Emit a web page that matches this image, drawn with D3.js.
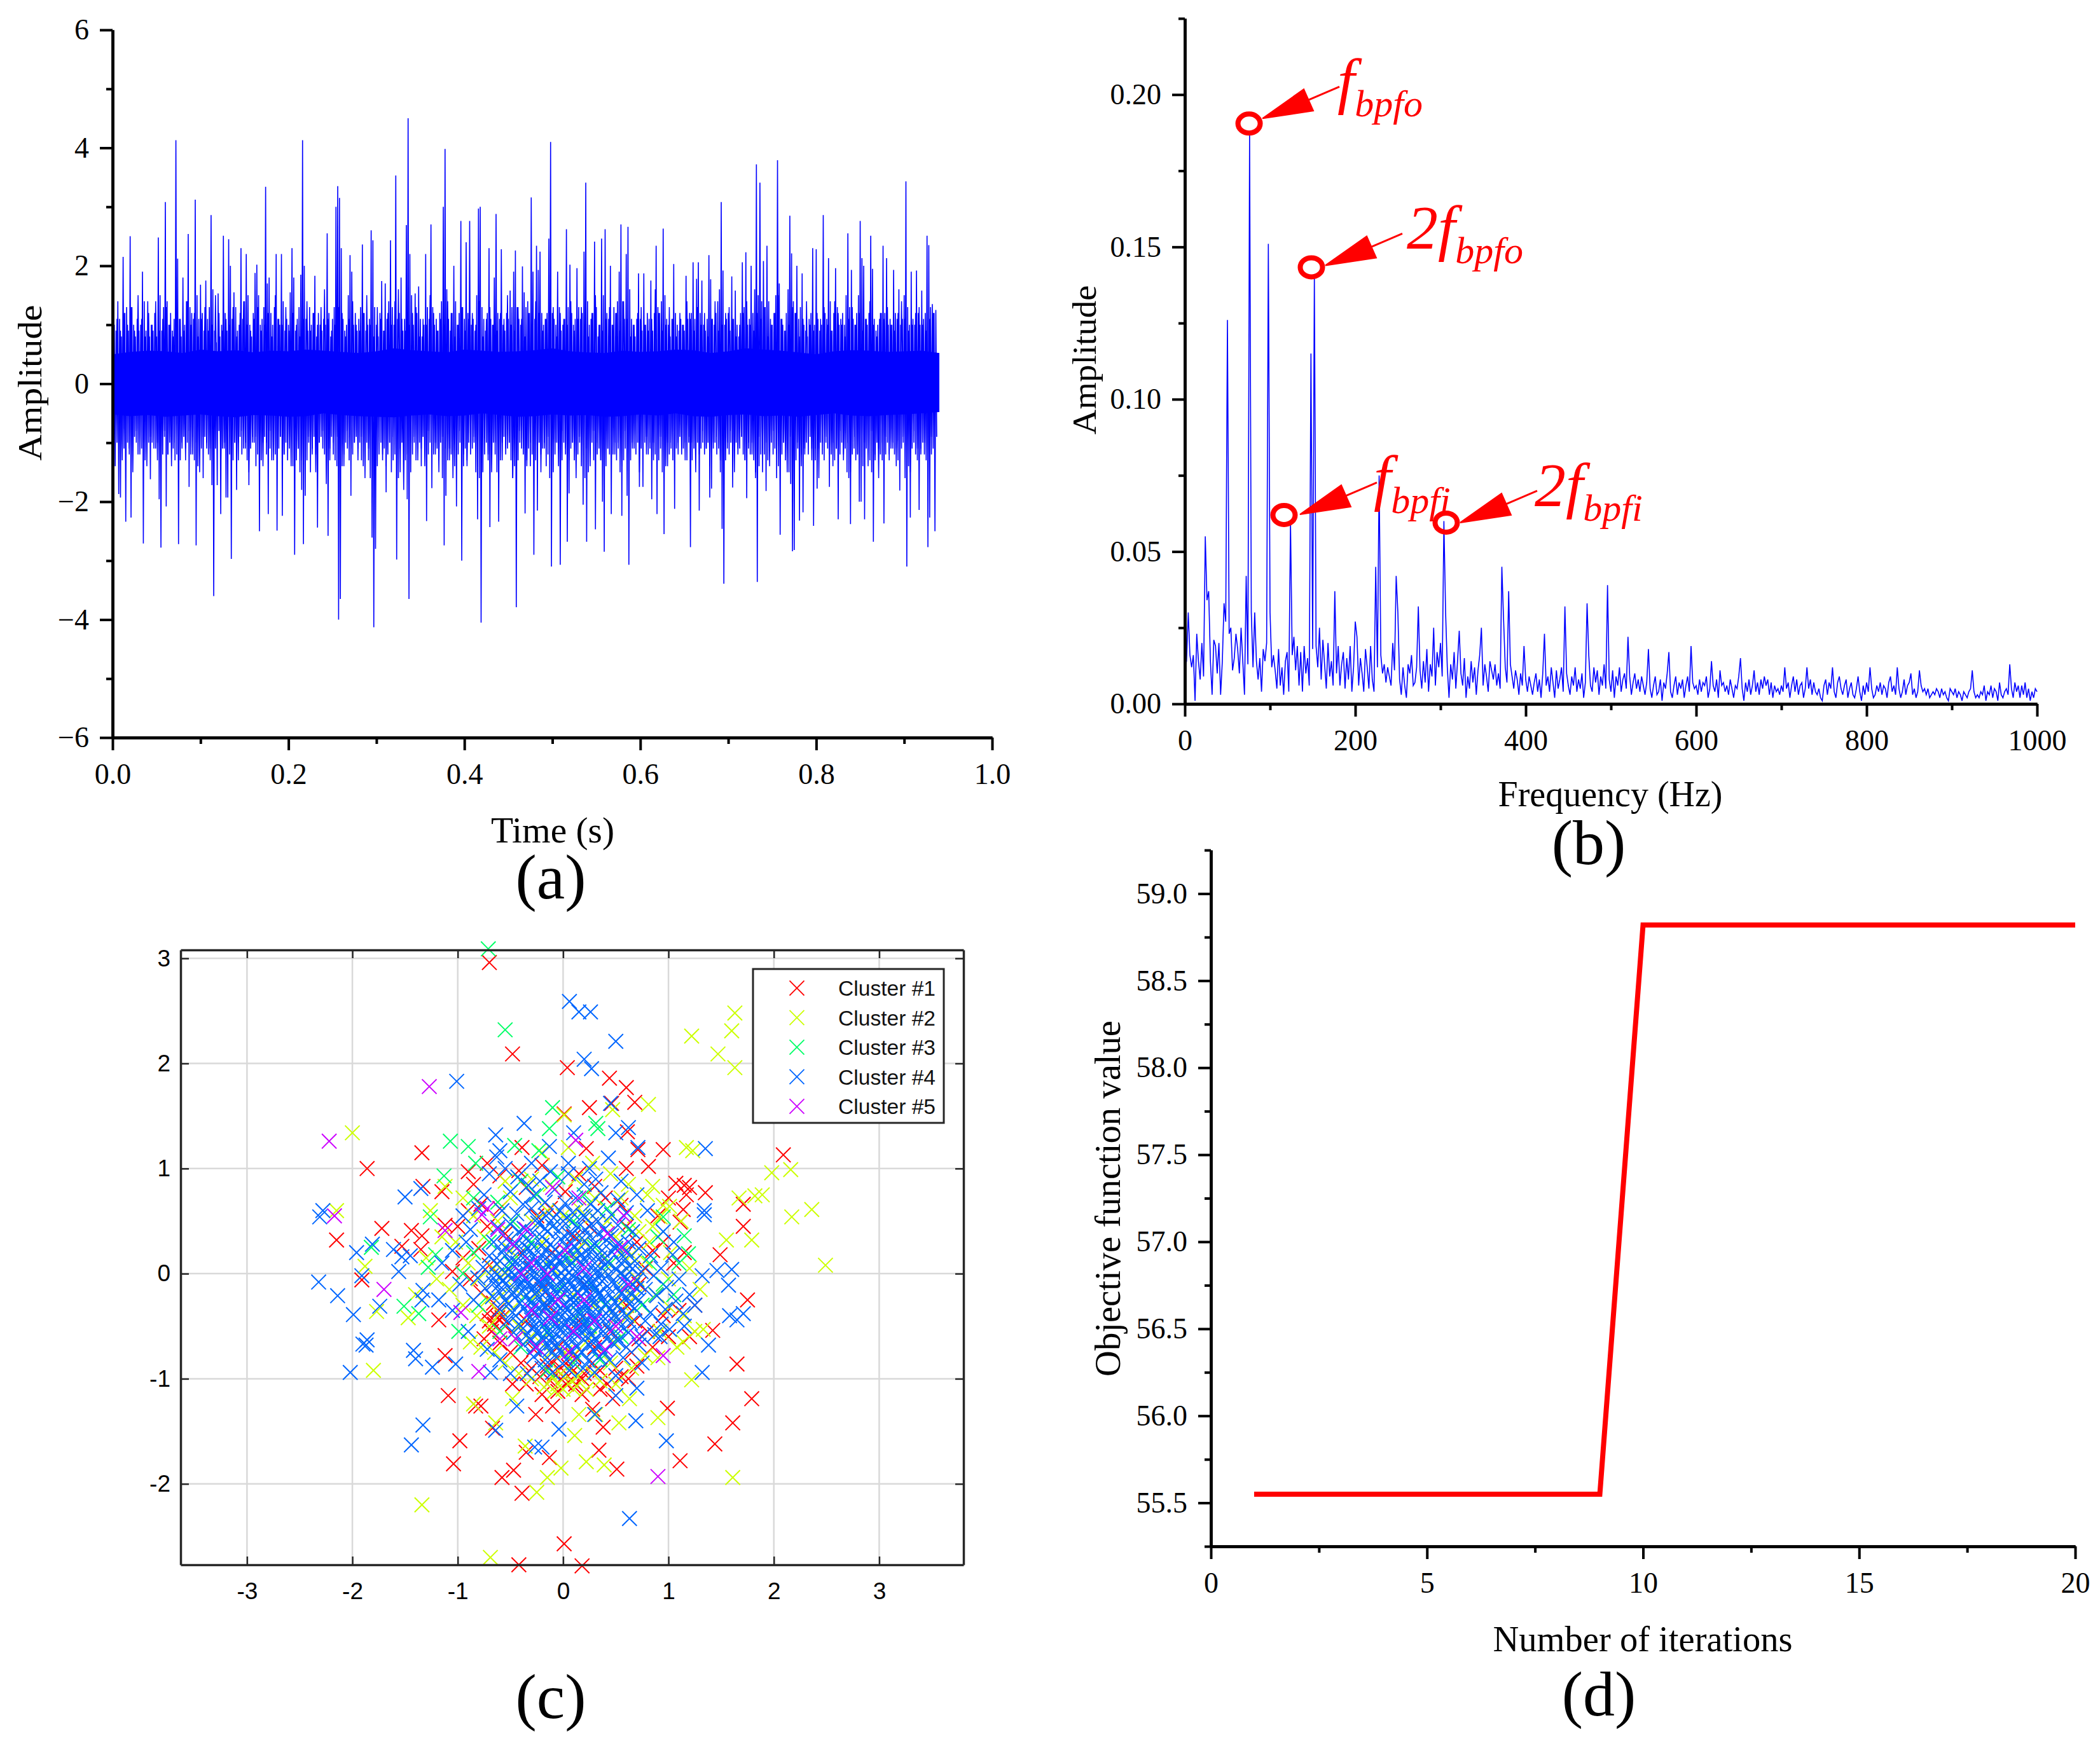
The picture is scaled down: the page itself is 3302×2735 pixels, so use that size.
<!DOCTYPE html>
<html>
<head>
<meta charset="utf-8">
<script src="https://d3js.org/d3.v7.min.js"></script>
<style>
  body { margin: 0; background: #fff; }
  text { font-family: "Liberation Serif", serif; fill: #000; }
</style>
</head>
<body>
<div id="chartArea"></div>
<script>
// (a) time signal: one upper and one lower peak per 2 ms
const waveStep = 0.002;
const waveUpper = [
  .7,1.0,.9,1.4,1.1,.8,2.15,1.2,1.3,.9, 2.5,1.3,1.0,.8,1.1,.9,1.0,1.9,1.4,.9,
  1.4,.8,1.0,.9,1.2,.8,2.48,1.5,.9,1.3, 3.08,1.4,1.0,1.2,.9,1.1,4.13,2.12,1.1,.8,
  1.8,1.0,1.4,2.54,1.3,1.2,1.1,3.12,1.5,1.1, 1.68,1.2,.9,1.75,1.1,1.3,2.86,1.6,.9,.7,
  1.53,.8,1.0,2.51,1.2,.9,2.45,2.0,1.1,1.55, 1.3,.9,1.0,2.3,1.1,1.4,2.2,1.5,1.0,.8,
  1.2,1.88,2.02,1.5,1.0,1.1,1.3,3.34,1.7,1.8, 1.2,1.0,1.3,2.2,1.1,1.0,2.2,1.4,.9,1.1,
  1.0,1.55,2.3,1.8,.9,1.1,1.3,1.85,4.13,2.0, 1.1,.9,1.3,1.0,1.2,1.83,.8,1.2,1.0,.9,
  1.1,1.0,2.55,1.2,.8,1.1,1.3,3.0,3.35,3.15, 2.3,1.1,.9,1.0,1.5,2.18,1.9,1.0,1.2,.9,
  1.1,1.3,2.36,1.2,.9,1.0,1.1,2.6,2.43,1.3, 1.0,.8,1.2,1.74,.9,1.7,1.1,1.4,2.43,1.3,
  1.0,3.53,1.1,1.2,1.8,.9,1.1,2.69,4.5,2.2, 1.5,1.0,1.53,1.2,1.65,1.1,.8,1.0,2.2,1.3,
  1.1,2.7,1.3,1.0,1.1,.9,1.2,1.4,3.0,3.98, 1.6,1.1,.9,1.2,2.0,1.4,1.0,1.2,2.76,1.3,
  1.1,2.4,1.2,2.76,1.0,1.1,.9,1.5,2.97,3.0, 1.3,1.1,.9,1.2,2.3,1.1,1.0,1.8,2.88,1.2,
  1.1,2.28,1.0,.9,1.2,1.1,1.58,1.3,1.9,2.26, 1.3,1.1,1.0,1.99,1.55,1.3,1.4,1.2,3.16,1.9,
  1.1,2.34,1.93,2.24,1.2,1.0,1.1,1.2,2.46,4.1, 1.2,1.1,1.0,1.9,1.3,.9,1.0,1.1,2.62,1.3,
  2.02,1.2,1.0,1.1,1.96,1.3,1.1,1.2,2.24,3.41, 1.4,1.0,1.1,1.2,2.41,1.3,.8,1.0,2.46,1.5,
  2.62,1.2,1.1,2.0,1.0,1.3,1.2,1.4,1.9,2.7, 1.4,1.1,2.2,2.66,1.6,1.1,1.0,.8,1.1,1.87,
  1.1,.9,1.87,1.0,1.2,1.1,1.75,.9,1.2,2.34, 1.3,1.2,1.4,2.63,1.5,1.1,1.0,.8,1.1,2.03,
  1.2,1.0,.9,1.1,1.0,.9,1.83,1.1,1.2,1.2, 2.06,1.1,1.78,2.06,1.2,1.75,1.0,.9,1.1,2.18,
  1.77,1.1,1.0,1.2,1.4,1.6,3.08,1.92,1.0,1.1, 1.2,.9,1.82,1.1,1.58,1.0,.8,1.2,2.06,1.3,
  2.23,1.0,1.1,2.0,1.2,1.6,3.72,1.5,3.41,1.4, 2.08,1.3,2.34,1.4,1.1,1.0,1.2,1.5,3.79,1.7,
  1.1,1.0,.9,1.2,1.6,2.85,2.21,1.4,1.2,2.0, 1.1,1.3,1.87,1.0,.9,.8,1.1,1.2,2.3,1.0,
  2.28,1.1,.9,1.0,2.86,1.2,1.1,2.13,1.4,.9, 1.2,1.96,1.3,1.0,1.1,1.2,1.0,1.5,2.55,1.3,
  1.93,1.1,1.0,1.2,1.5,2.76,2.13,2.0,1.1,1.0, 1.2,2.51,1.95,1.1,.9,1.0,1.1,1.2,2.34,1.2,
  2.13,1.0,1.1,1.0,1.93,1.2,1.1,1.6,1.0,1.1, 1.5,3.43,1.3,1.0,1.9,1.1,1.0,1.92,1.2,1.0,
  1.58,1.1,1.2,2.51,2.35,1.3,1.35,1.2,1.25
];
const waveLower = [
  -.8,-1.4,-1.0,-1.87,-1.93,-.9,-1.1,-2.34,-1.0,-1.2, -2.27,-1.1,-.9,-1.0,-1.2,-.8,-1.1,-2.71,-1.3,-.9,
  -1.0,-1.62,-1.0,-.8,-1.1,-1.0,-1.96,-2.78,-1.2,-.9, -2.08,-1.2,-1.0,-.9,-1.1,-1.3,-1.2,-2.72,-1.3,-1.0,
  -.9,-1.1,-1.0,-1.75,-1.2,-.9,-1.3,-2.74,-1.4,-1.0, -1.1,-1.6,-.9,-1.0,-1.2,-1.1,-1.72,-3.6,-1.1,-1.72,
  -.8,-2.21,-1.1,-1.0,-1.93,-1.93,-1.2,-2.97,-1.3,-1.0, -1.8,-1.0,-.9,-1.2,-1.1,-1.0,-1.3,-1.72,-1.1,-.9,
  -1.0,-1.4,-1.2,-2.5,-1.3,-1.0,-.9,-1.2,-2.21,-1.1, -1.3,-1.0,-1.2,-2.49,-1.1,-.9,-2.24,-1.2,-1.0,-1.3,
  -1.1,-.9,-1.4,-2.9,-1.3,-1.1,-1.5,-1.8,-2.72,-1.9, -1.3,-1.0,-1.5,-1.1,-.9,-1.2,-2.44,-1.0,-.9,-1.1,
  -1.2,-1.0,-2.58,-1.1,-.9,-1.2,-1.3,-1.4,-4.0,-3.65, -1.4,-1.2,-1.0,-1.1,-1.3,-1.9,-1.2,-1.0,-.9,-1.1,
  -1.0,-1.3,-1.4,-1.1,-1.0,-1.3,-1.6,-2.61,-4.13,-2.8, -1.4,-1.2,-1.0,-1.3,-1.1,-1.84,-1.2,-1.0,-1.5,-1.3,
  -1.2,-2.98,-1.6,-1.1,-1.0,-1.2,-1.3,-1.96,-3.65,-1.5, -1.2,-1.0,-1.3,-1.1,-1.0,-1.4,-.9,-1.1,-2.33,-1.2,
  -1.0,-1.77,-1.2,-1.0,-1.1,-1.3,-1.0,-1.6,-2.74,-1.9, -1.3,-1.1,-1.2,-1.0,-1.4,-2.08,-1.2,-1.0,-3.0,-1.4,
  -1.1,-1.3,-1.0,-1.2,-1.1,-1.0,-1.5,-2.3,-1.6,-4.05, -1.5,-1.2,-1.0,-1.3,-2.43,-1.1,-1.0,-1.2,-1.5,-2.34,
  -1.3,-1.0,-.9,-1.2,-1.1,-1.0,-1.3,-1.6,-1.4,-3.79, -1.3,-1.0,-1.1,-1.2,-2.2,-1.3,-1.1,-1.4,-1.2,-2.9,
  -1.3,-2.15,-1.0,-1.2,-1.1,-1.0,-1.4,-1.2,-1.6,-3.1, -1.5,-1.2,-1.0,-1.1,-3.07,-1.3,-1.0,-1.2,-2.68,-1.86,
  -1.1,-1.0,-1.3,-1.1,-1.2,-1.0,-1.4,-2.05,-1.6,-2.68, -1.5,-1.2,-1.0,-1.3,-2.47,-1.2,-1.1,-1.3,-2.0,-2.85,
  -1.4,-1.1,-1.2,-2.21,-1.2,-1.0,-1.3,-1.1,-1.5,-2.24, -1.3,-1.1,-1.9,-3.07,-1.3,-1.0,-1.1,-1.2,-1.0,-1.75,
  -1.1,-1.75,-1.0,-.9,-1.2,-1.1,-1.96,-1.0,-1.2,-2.21, -1.3,-1.1,-1.5,-2.55,-1.4,-1.0,-1.2,-1.1,-1.3,-2.12,
  -1.1,-1.0,-.9,-1.2,-1.1,-1.0,-1.3,-1.0,-2.77,-1.3, -1.1,-1.2,-1.0,-2.15,-1.1,-1.0,-1.2,-1.1,-1.0,-1.93,
  -1.78,-1.1,-1.0,-1.2,-1.1,-1.5,-2.46,-3.39,-1.3,-1.1, -1.2,-1.0,-1.76,-1.1,-1.0,-1.2,-1.1,-.9,-1.2,-1.3,
  -1.94,-1.1,-1.2,-1.0,-1.3,-1.5,-3.36,-1.4,-1.2,-1.5, -1.2,-1.82,-1.3,-1.1,-1.0,-1.2,-1.1,-1.6,-1.4,-2.56,
  -1.2,-1.0,-1.3,-1.1,-1.5,-1.7,-2.84,-2.82,-1.3,-1.1, -2.32,-1.2,-2.18,-1.1,-1.0,-1.2,-.9,-1.1,-2.41,-1.3,
  -1.78,-1.1,-1.0,-1.2,-1.3,-1.0,-1.1,-1.75,-1.2,-1.0, -1.3,-1.1,-2.3,-1.2,-1.0,-1.2,-1.1,-1.5,-1.6,-2.38,
  -1.2,-1.1,-1.3,-1.2,-2.0,-2.0,-1.4,-2.3,-1.1,-1.0, -1.3,-1.5,-2.68,-1.2,-1.0,-1.1,-1.2,-1.3,-2.37,-1.2,
  -1.0,-1.3,-1.1,-1.0,-1.2,-1.1,-1.3,-1.81,-1.1,-1.0, -1.6,-3.1,-1.4,-2.27,-1.1,-1.0,-1.2,-1.3,-2.14,-1.1,
  -1.0,-1.2,-1.3,-2.77,-2.27,-1.2,-1.1,-2.5,-.9
];
// smaller swings between the big peaks, one pair per 4 ms
const fuzzStep = 0.004;
const fuzzUpper = [
  .8,1.1,.9,1.2,1.0,1.3,.9,1.5,1.1,.8,1.2,1.0,1.4,.9,1.1,1.3,1.0,.8,1.2,1.1,
  .9,1.4,1.0,1.2,.8,1.1,1.3,.9,1.0,1.5,1.2,.9,1.1,1.0,1.3,.8,1.2,1.4,1.0,.9,
  1.1,1.3,.9,1.0,1.2,.8,1.5,1.1,1.0,1.3,.9,1.2,1.0,.8,1.1,1.4,.9,1.2,1.0,1.3,
  1.6,1.1,.9,1.0,1.3,1.2,.8,1.1,1.4,1.0,.9,1.2,1.5,1.0,.8,1.3,1.1,.9,1.2,1.0,
  1.4,1.6,1.1,.9,1.0,1.2,1.3,.8,1.1,1.0,1.5,1.2,.9,1.1,1.0,1.4,1.2,.8,1.0,1.3,
  .9,1.1,1.2,1.0,1.4,.8,1.1,1.3,1.0,.9,1.2,1.1,1.5,1.0,.9,1.3,1.1,.8,1.2,1.0,
  1.4,1.2,.9,1.1,1.0,1.3,.8,1.2,1.1,1.0,1.4,.9,1.1,1.3,1.0,.8,1.2,1.5,1.0,.9,
  1.1,1.3,1.0,1.2,.9,1.4,1.1,.8,1.0,1.2,1.3,1.0,.9,1.1,1.6,1.2,.9,1.0,1.3,1.1,
  .8,1.2,1.0,1.4,1.1,.9,1.3,1.0,1.2,.8,1.1,1.4,.9,1.0,1.2,1.3,1.1,.8,1.0,1.2,
  1.4,1.0,.9,1.2,1.1,1.3,.8,1.0,1.2,1.5,1.1,.9,1.0,1.3,1.2,.8,1.1,1.4,1.0,.9,
  1.2,1.1,1.3,1.0,.9,1.4,1.2,1.0,.8,1.1,1.3,1.0,1.2,.9,1.1,1.4,1.0,.8,1.2,1.1,
  1.3,1.0,.9,1.2,1.4,1.1,.9,1.0,1.2,1.3,1.0,.9,1.1,1.2
];
const fuzzLower = [
  -.8,-1.0,-1.3,-.9,-1.1,-1.5,-.8,-1.2,-1.0,-1.4,-.9,-1.1,-1.3,-1.0,-.8,-1.2,-1.4,-1.0,-.9,-1.1,
  -1.3,-.8,-1.2,-1.0,-1.5,-.9,-1.1,-1.3,-1.0,-.8,-1.4,-1.1,-.9,-1.2,-1.0,-1.3,-.8,-1.1,-1.5,-1.0,
  -.9,-1.2,-1.4,-1.0,-.8,-1.3,-1.1,-.9,-1.2,-1.0,-1.4,-.8,-1.1,-1.3,-1.0,-.9,-1.2,-1.5,-1.0,-.8,
  -1.7,-1.3,-1.0,-.9,-1.2,-1.4,-.8,-1.1,-1.0,-1.3,-.9,-1.6,-1.1,-1.0,-1.3,-.8,-1.2,-1.4,-1.0,-.9,
  -1.1,-1.5,-1.8,-1.2,-1.0,-.9,-1.3,-1.1,-1.4,-.8,-1.0,-1.2,-1.5,-.9,-1.1,-1.3,-1.6,-1.0,-.8,-1.2,
  -1.4,-1.0,-.9,-1.3,-1.1,-.8,-1.2,-1.5,-1.0,-.9,-1.3,-1.1,-1.0,-1.6,-1.2,-.8,-1.1,-1.4,-1.0,-.9,
  -1.3,-1.5,-1.1,-.9,-1.2,-1.0,-1.4,-.8,-1.1,-1.3,-1.0,-1.6,-.9,-1.2,-1.1,-1.4,-.8,-1.0,-1.3,-1.5,
  -1.1,-.9,-1.2,-1.0,-1.4,-.8,-1.3,-1.1,-1.0,-1.5,-.9,-1.2,-1.0,-1.3,-1.1,-.9,-1.6,-1.4,-1.0,-.8,
  -1.2,-1.1,-1.3,-.9,-1.0,-1.5,-1.2,-.8,-1.1,-1.4,-1.0,-.9,-1.3,-1.2,-1.0,-.8,-1.5,-1.1,-.9,-1.3,
  -1.0,-1.2,-1.6,-.9,-1.1,-1.0,-1.4,-.8,-1.2,-1.3,-1.0,-1.5,-.9,-1.1,-1.0,-1.4,-1.2,-.8,-1.3,-1.1,
  -1.6,-1.0,-.9,-1.2,-1.4,-1.1,-.8,-1.3,-1.0,-1.5,-.9,-1.2,-1.1,-1.0,-1.4,-.8,-1.3,-1.6,-1.0,-.9,
  -1.2,-1.1,-1.4,-1.0,-.9,-1.3,-1.5,-.8,-1.1,-1.2,-1.0,-1.4,-.9,-1.0
];
// solid core of the band, one value per 20 ms
const coreStep = 0.02;
const coreUpper = [.5,.54,.56,.55,.52,.58,.55,.57,.53,.56,.55,.58,.56,.54,.52,.55,.6,.57,.55,.53,.58,.56,.54,.55,.57,.6,.55,.53,.52,.56,.54,.55,.58,.57,.52,.55,.6,.58,.56,.53,.5,.55,.57,.56,.54,.55,.56,.52];
const coreLower = [-.52,-.55,-.53,-.56,-.54,-.52,-.55,-.57,-.53,-.54,-.56,-.55,-.5,-.53,-.55,-.56,-.57,-.54,-.52,-.55,-.54,-.5,-.53,-.56,-.55,-.52,-.54,-.53,-.56,-.55,-.52,-.54,-.5,-.55,-.56,-.53,-.52,-.55,-.54,-.56,-.53,-.5,-.54,-.55,-.53,-.52,-.5,-.48];

// (b) spectrum, one value per 2 Hz
const spectrumStep = 2;
const spectrum = [
  .012,.014,.030,.016,.012,.016,.001,.023,.014,.008, .020,.009,.055,.034,.037,.014,.003,.021,.019,.010,
  .020,.003,.014,.033,.027,.126,.023,.025,.011,.015, .023,.018,.010,.025,.014,.003,.042,.013,.187,.030,
  .012,.030,.014,.008,.015,.004,.018,.014,.020,.151, .030,.012,.016,.011,.005,.018,.006,.012,.003,.014,
  .017,.004,.060,.016,.022,.011,.019,.006,.017,.004, .019,.010,.015,.006,.115,.018,.141,.019,.012,.025,
  .008,.021,.013,.005,.020,.009,.014,.006,.037,.010, .019,.006,.013,.017,.005,.015,.008,.019,.004,.012,
  .027,.022,.006,.015,.010,.004,.018,.012,.005,.019, .008,.004,.045,.012,.075,.016,.010,.013,.007,.012,
  .009,.006,.020,.011,.042,.030,.008,.003,.012,.006, .002,.013,.010,.016,.006,.007,.012,.032,.011,.005,
  .014,.007,.018,.004,.013,.009,.025,.006,.017,.012, .020,.009,.060,.030,.012,.002,.013,.008,.017,.005,
  .014,.024,.010,.006,.015,.002,.009,.005,.014,.007, .012,.003,.011,.016,.025,.006,.013,.009,.004,.014,
  .011,.008,.013,.006,.010,.005,.045,.028,.012,.007, .037,.013,.009,.005,.011,.008,.003,.010,.006,.019,
  .008,.004,.009,.006,.003,.007,.010,.004,.008,.002, .010,.023,.006,.009,.004,.012,.007,.002,.011,.005,
  .008,.012,.004,.032,.010,.006,.003,.009,.006,.012, .004,.008,.005,.010,.002,.007,.033,.016,.006,.004,
  .012,.007,.011,.003,.009,.006,.013,.005,.039,.008, .004,.011,.002,.009,.006,.012,.004,.008,.010,.005,
  .022,.009,.003,.007,.010,.005,.008,.004,.009,.006, .003,.007,.018,.005,.002,.006,.009,.003,.004,.008,
  .001,.007,.005,.010,.017,.004,.002,.006,.009,.003, .007,.005,.008,.002,.006,.009,.004,.019,.007,.005,
  .006,.003,.008,.004,.007,.006,.009,.002,.005,.014, .006,.004,.008,.002,.011,.006,.007,.004,.006,.003,
  .008,.005,.002,.006,.005,.009,.015,.005,.001,.007, .004,.008,.003,.006,.011,.004,.007,.003,.008,.005,
  .009,.006,.008,.003,.007,.002,.006,.004,.005,.003, .006,.004,.012,.005,.007,.002,.006,.009,.004,.008,
  .003,.006,.007,.002,.005,.012,.005,.008,.003,.007, .004,.003,.005,.002,.001,.006,.008,.003,.007,.005,
  .012,.004,.002,.007,.009,.005,.003,.006,.008,.002, .005,.007,.003,.002,.005,.009,.004,.001,.006,.003,
  .007,.004,.012,.005,.002,.003,.006,.004,.007,.003, .006,.005,.002,.007,.009,.004,.006,.003,.012,.005,
  .002,.004,.008,.003,.006,.007,.010,.003,.005,.002, .004,.011,.006,.004,.005,.003,.005,.002,.003,.004,
  .003,.005,.004,.002,.005,.003,.004,.002,.001,.005, .004,.003,.005,.002,.004,.003,.001,.004,.003,.002,
  .004,.005,.011,.004,.002,.003,.002,.004,.003,.006, .001,.004,.003,.006,.002,.005,.004,.001,.007,.003,
  .002,.004,.005,.003,.013,.005,.002,.007,.004,.006, .002,.006,.003,.007,.002,.005,.001,.004,.002,.005,
  .004
];
const calloutFreq = [75.4, 148.5, 116.4, 306.7];
const calloutAmp = [0.1905, 0.1433, 0.062, 0.0595];
const calloutMain = ["f", "2f", "f", "2f"];
const calloutSub = ["bpfo", "bpfo", "bpfi", "bpfi"];

// (c) clusters, [x, y]
const clusterNames = ["Cluster #1", "Cluster #2", "Cluster #3", "Cluster #4", "Cluster #5"];
const clusterColors = ["#ff0000", "#ccff00", "#00ff66", "#0066ff", "#cc00ff"];
const cluster1 = [
  [-.70,2.96],[-.48,2.09],[.04,1.96],[.44,1.86],[.60,1.77],[.68,1.63],[.46,1.62],[.25,1.58],[.01,1.52],[-1.34,1.15],[-1.86,1.0],[2.09,1.13],[.95,1.18],[.71,1.18],[.61,1.35],[.22,1.19],[-.39,1.2],[-.9,.97],[.81,1.02],[1.07,.86],[1.15,.84],[1.2,.82],[1.17,.75],[1.35,.77],[1.71,.66],[1.71,.45],[1.14,.61],[1.11,.49],[-1.15,.78],[-1.33,.83],[-1.72,.43],[-2.15,.32],[-1.44,.41],[-1.34,.36],[-1.12,.46],[-1.53,.26],[-1.35,.23],[-1.91,-.06],[1.49,.18],[1.75,-.25],[1.42,-.54],[1.2,-.6],[-1.18,-.44],[-1.12,-.78],[1.65,-.86],[1.79,-1.19],[1.61,-1.42],[1.44,-1.62],[1.11,-1.78],[.99,-1.28],[-1.09,-1.16],[-.83,-1.26],[-.78,-1.26],[-.98,-1.59],[-1.04,-1.81],[-.67,-1.47],[-.58,-1.94],[-.47,-1.87],[-.39,-2.09],[-.35,-1.7],[-.13,-1.75],[.34,-1.68],[.51,-1.86],[.38,-1.46],[.01,-2.57],[-.42,-2.77],[.18,-2.78],[-.26,-1.34],[-.1,-1.26],[.47,-1.19],[.28,-1.29],
  [-.72,1.05],[-.6,.93],[-.42,.98],[-.2,1.03],[-.35,.82],[-.85,.85],[-.6,.62],[-.78,.66],[-.9,.6],[-1,.45],[-.72,.45],[-.55,.38],[-.8,.24],[-.95,.15],[-.7,.08],[-1.05,.02],[-.88,-.05],[-.78,-.18],[-.66,-.28],[-.72,-.38],[-.62,-.42],[-.55,-.5],[-.68,-.55],[-.75,-.62],[-.6,-.66],[-.5,-.75],[-.45,-.62],[-.4,-.85],[-.3,-.9],[-.22,-.98],[-.12,-1.02],[.0,-.98],[.12,-1.05],[.2,-.95],[.05,-.88],[-.1,-.85],[.28,-.85],[.35,-.92],[.42,-1.05],[.5,-.9],[.55,-.98],[.65,-.75],[.72,-.62],[.8,-.55],[.85,-.7],[.68,-.45],[.6,-.3],[.72,-.1],[.78,.05],[.85,.22],[.95,.3],[.88,-.2],[.95,-.4],[1.0,-.6],[1.1,-.35],[1.25,-.3],[1.05,.1],[1.15,.2],[.7,.3],[.6,.45],[.55,.65],[.4,.72],[.3,.83],[.15,.95],[.02,.78],[-.12,.62],[-.25,.55],[.25,.45],[.1,.35],[-.1,.2],[-.3,.05],[.2,-.1],[-.15,-.3],[.15,-.45],[-.05,-.7],[.3,-.7],[-.35,-.45],[.45,-.55],[-.4,.2],[.4,.15],[-.2,-.15],[-.28,-.72],[.1,-.78],[.62,-1.0],[-.05,-1.12],[-.2,-1.15],[-.35,-1.05],[.18,-1.15],[.35,-1.1],[-.48,-1.05],[.7,-.88],[.9,.55],[1.0,.72],[.6,1.0],
  [-.08,-.95],[.03,-1.05],[.1,-.92],[-.15,-.88],[.18,-1.0],[-.02,-.9],[-.62,-.35],[-.7,-.45],[-.65,-.48],[-.58,-.42]
];
const cluster2 = [
  [1.63,2.48],[1.6,2.31],[1.22,2.26],[1.47,2.09],[1.63,1.96],[.81,1.61],[.47,1.56],[.01,1.51],[-2.0,1.34],[1.17,1.2],[1.23,1.17],[1.98,.96],[2.16,.99],[2.36,.61],[2.17,.54],[1.67,.72],[1.82,.74],[1.89,.75],[1.79,.32],[1.55,.32],[2.49,.08],[.85,.83],[1.01,.64],[.92,.54],[-2.15,.6],[-1.26,.6],[-1.12,.83],[-1.88,.07],[-1.77,-.36],[-1.47,-.42],[-1.8,-.92],[1.22,-1.01],[1.61,-1.94],[-1.34,-2.2],[-.69,-2.7],[-.25,-2.08],[-.15,-1.94],[-.02,-1.85],[.22,-1.79],[.39,-1.82],[.11,-1.54],[-.36,-1.64],[.9,-1.37],[.53,-1.42],[.31,-1.34],[-.48,-1.19],[-.85,-1.24],[-.64,-1.42],[1.33,-.53],[1.14,-.65],[1.01,-.32],[.63,-1.19],[.15,-1.34],
  [-.2,1.15],[.05,1.2],[.28,1.05],[.45,.95],[.62,.85],[.8,.75],[.95,.65],[1.12,.5],[1.02,.2],[1.2,.05],[1.3,-.15],[1.15,-.4],[1.25,-.55],[1.08,-.7],[.9,-.8],[.78,-.78],[.65,-.9],[.5,-1.05],[.35,-1.02],[.22,-1.1],[.08,-1.02],[-.05,-1.05],[-.18,-1.08],[-.3,-1.0],[-.42,-.95],[-.55,-.85],[-.65,-.75],[-.78,-.7],[-.88,-.65],[-.7,-.5],[-.82,-.4],[-.95,-.3],[-.6,-.38],[-.72,-.25],[-1.08,-.15],[-1.2,-.05],[-.8,-.05],[-.66,.05],[-.9,.1],[-1.02,.3],[-.75,.35],[-.62,.5],[-.85,.55],[-.95,.72],[-.5,.72],[-.55,.88],[-.3,.9],[-.12,.85],[.12,.9],[.3,.72],[.55,.72],[.68,.55],[.72,.4],[.82,.3],[.65,.18],[.78,.12],[.6,.05],[.7,-.05],[.58,-.15],[.68,-.22],[.55,-.28],[.62,-.4],[.5,-.42],[.48,-.65],[.38,-.75],[.25,-.62],[.15,-.72],[.02,-.75],[-.12,-.75],[-.22,-.65],[-.33,-.62],[-.42,-.5],[-.5,-.35],[-.58,-.2],[-.45,-.15],[-.55,.0],[-.5,.22],[-.42,.4],[-.3,.5],[-.15,.6],[.0,.55],[.15,.62],[.28,.55],[.42,.5],[.5,.35],[.55,.2],[.4,.02],[.3,-.3],[.1,-.2],[-.1,-.4],[-.25,-.2],[-.1,.05],[.1,.15],[-.2,.3],[.2,.3],[.92,-.55],[1.0,-.05],[.85,.45],[-1.3,.15],[-1.15,.35],[-1.4,-.2],[.45,-.85],
  [-.1,-.98],[.0,-1.1],[.14,-.98],[-.02,-.95],[.28,-.95],[.1,-1.1],[-.08,-1.12]
];
const cluster3 = [
  [-.71,3.09],[-.55,2.32],[-.1,1.58],[-.13,1.38],[.33,1.38],[.31,1.43],[-.46,1.22],[-1.07,1.26],[-.9,1.21],[-1.13,.93],[-1.26,.54],[-1.82,.25],[-1.51,-.31],[-1.37,-.38],[1.15,.36],[.95,.54],[1.19,.19],[-.83,1.05],[-.23,1.17],[-.99,-.55],[-1.21,.18],[-1.28,.06],[.88,-.2],
  [-.4,.88],[-.25,.75],[-.05,.92],[.2,.75],[.42,.62],[.62,.42],[.82,.1],[.95,-.1],[1.05,-.2],[.75,-.3],[.55,-.6],[.35,-.82],[.1,-.85],[-.15,-.92],[-.4,-.7],[-.6,-.55],[-.8,-.3],[-.95,.0],[-.85,.2],[-.7,.3],[-.62,.68],[-.48,.5],[-.3,.3],[-.1,.45],[.1,.5],[.3,.25],[.45,.1],[.3,-.15],[.15,-.38],[-.05,-.15],[-.2,.05],[-.35,-.2],[.05,.15],[-.15,-.55],[.25,-.5],[.4,-.3],[-.5,.1],[-.85,.72],[.9,.35],[1.1,.1]
];
const cluster4 = [
  [.06,2.59],[.15,2.49],[.26,2.49],[.5,2.21],[.2,2.04],[.27,1.95],[-1.01,1.83],[.45,1.62],[-.37,1.43],[.62,1.39],[.1,1.34],[.5,1.34],[-.64,1.32],[-.6,1.17],[-.63,1.11],[-.13,1.21],[.43,1.1],[1.35,1.19],[.71,1.2],[-1.5,.73],[-1.35,.81],[-2.28,.6],[-2.31,.54],[-1.81,.28],[-1.96,.2],[-1.61,.23],[-1.53,.16],[-1.45,.17],[-1.56,.02],[-2.32,-.08],[-2.14,-.21],[-1.91,-.02],[-1.99,-.39],[-1.74,-.31],[-1.86,-.63],[-1.9,-.67],[-1.87,-.68],[-1.42,-.73],[-1.4,-.81],[-1.24,-.89],[-2.02,-.94],[-1.33,-.16],[-1.34,-.25],[-1.18,-.25],[-1.02,-.86],[1.34,.6],[1.34,.56],[1.6,.04],[1.46,.03],[1.32,-.02],[1.57,-.11],[1.71,-.38],[1.65,-.44],[1.58,-.4],[1.32,-.94],[1.38,-.68],[1.14,-.38],[1.25,-.3],[1.01,-.53],[.92,-.6],[.7,-1.09],[.69,-1.4],[.3,-1.34],[-.04,-1.48],[-.2,-1.65],[-.27,-1.65],[.98,-1.59],[.63,-2.33],[-.44,-1.26],[-1.33,-1.44],[-1.44,-1.63],[-.64,-1.49],[-.69,-.94],[.5,-1.16],[1.04,.18],
  [-.43,.92],[-.22,.88],[.05,.95],[.31,.9],[-.12,.97],[.2,.85],[-.33,.84],
  [-.5,.78],[-.28,.74],[-.08,.8],[.12,.72],[.36,.77],[.52,.7],[-.17,.68],[-.38,.66],[.26,.66],[.02,.67],
  [-.58,.6],[-.44,.57],[-.3,.62],[-.16,.55],[-.03,.6],[.09,.58],[.21,.54],[.33,.6],[.46,.56],[.6,.58],
  [-.62,.44],[-.5,.47],[-.37,.43],[-.24,.48],[-.1,.45],[.0,.5],[.14,.44],[.27,.47],[.39,.42],[.52,.46],[.66,.4],
  [-.66,.3],[-.54,.33],[-.46,.27],[-.33,.31],[-.2,.35],[-.12,.28],[-.02,.33],[.08,.29],[.18,.34],[.3,.28],[.41,.32],[.5,.27],[.62,.3],[.72,.24],
  [-.7,.17],[-.58,.2],[-.49,.14],[-.38,.19],[-.28,.16],[-.17,.22],[-.07,.15],[.04,.2],[.13,.14],[.24,.19],[.35,.15],[.46,.21],[.57,.16],[.68,.12],[.83,.17],
  [-.76,.06],[-.63,.09],[-.52,.04],[-.43,.1],[-.31,.05],[-.22,.09],[-.11,.03],[-.02,.1],[.09,.05],[.19,.09],[.29,.03],[.4,.08],[.51,.04],[.63,.07],[.74,.02],[.93,.05],
  [-.81,-.04],[-.68,-.02],[-.57,-.06],[-.46,-.01],[-.36,-.05],[-.25,0],[-.15,-.06],[-.05,-.02],[.06,-.07],[.15,-.01],[.25,-.05],[.36,-.02],[.47,-.07],[.59,-.03],[.7,-.06],[.86,-.02],
  [-.74,-.14],[-.61,-.11],[-.5,-.15],[-.4,-.1],[-.29,-.14],[-.19,-.12],[-.09,-.16],[.01,-.11],[.11,-.15],[.21,-.1],[.31,-.14],[.42,-.12],[.54,-.16],[.66,-.11],[.78,-.15],[.98,-.13],
  [-.67,-.22],[-.55,-.25],[-.44,-.21],[-.33,-.26],[-.23,-.23],[-.13,-.27],[-.03,-.22],[.07,-.25],[.17,-.21],[.27,-.26],[.38,-.23],[.49,-.27],[.6,-.22],[.72,-.25],[.89,-.21],[1.07,-.26],
  [-.6,-.34],[-.48,-.37],[-.37,-.33],[-.27,-.36],[-.16,-.32],[-.06,-.37],[.04,-.34],[.14,-.36],[.24,-.32],[.34,-.37],[.45,-.33],[.56,-.36],[.68,-.33],[.83,-.37],[.97,-.34],
  [-.53,-.45],[-.42,-.48],[-.3,-.44],[-.2,-.47],[-.1,-.43],[.0,-.48],[.1,-.45],[.2,-.47],[.3,-.43],[.41,-.48],[.52,-.44],[.64,-.47],[.78,-.45],[.93,-.48],
  [-.47,-.56],[-.35,-.59],[-.24,-.55],[-.13,-.58],[-.03,-.54],[.07,-.59],[.17,-.56],[.27,-.58],[.38,-.55],[.5,-.59],[.62,-.56],[.75,-.6],[.87,-.58],
  [-.38,-.67],[-.27,-.7],[-.16,-.66],[-.06,-.69],[.03,-.66],[.13,-.7],[.24,-.67],[.35,-.69],[.47,-.66],[.6,-.7],[.72,-.68],
  [-.28,-.79],[-.17,-.82],[-.08,-.78],[.03,-.82],[.13,-.79],[.24,-.83],[.34,-.79],[.44,-.82],[.57,-.8],
  [-.2,-.9],[-.1,-.94],[.06,-.92],[.19,-.9],[.3,-.94],[-.34,-.95],[.5,-.97],
  [-.34,.24],[-.12,.12],[.11,.25],[.3,.1],[-.4,-.08],[-.2,-.09],[.02,.04],[.22,-.08],[.33,-.2],[-.08,-.28],[.12,-.3],[-.27,-.3],[.05,.38],[-.15,.4],[.25,.36],[-.38,.36],[.43,-.4],[-.05,-.5],[.18,-.52],[-.3,-.52],[.3,-.62],[-.1,-.62],
  [-1.15,.1],[-1.05,.22],[-.98,-.1],[-.92,.3],[-.88,.42],[-.95,.55],[-.8,.62],[-.75,.75],[-.7,.95],[-.55,1.0],[-.3,1.05],[.05,1.05],[.25,1.0],[.55,.88],[.7,.75],[.8,.6],[.95,.4],[1.05,.3],[1.1,-.05],[1.2,-.2],[1.15,-.5],[-.85,-.25],[-1.05,-.35],[-.9,-.55],[-.72,-.72],[-.6,-.82],[-.5,-.95],[.75,-.85],
  [-.25,.52],[-.09,.53],[.06,.51],[.19,.55],[.33,.5],
  [-.42,.4],[-.29,.39],[-.17,.43],[-.04,.41],[.09,.38],[.21,.42],[.33,.38],[.46,.36],
  [-.55,.25],[-.42,.26],[-.31,.22],[-.2,.27],[-.08,.23],[.03,.26],[.14,.22],[.26,.25],[.37,.22],[.5,.24],[.6,.22],
  [-.6,.12],[-.48,.09],[-.36,.13],[-.25,.1],[-.14,.07],[-.03,.13],[.08,.1],[.2,.13],[.31,.16],[.42,.11],[.55,.1],[.66,.05],
  [-.63,-.01],[-.52,-.02],[-.41,.02],[-.3,-.02],[-.18,.02],[-.08,.06],[.02,-.03],[.12,.02],[.22,.0],[.33,.03],[.43,-.01],[.54,.0],[.64,-.08],
  [-.66,-.09],[-.55,-.1],[-.45,-.07],[-.34,-.1],[-.24,-.07],[-.13,-.1],[-.03,-.07],[.07,-.1],[.16,-.07],[.27,-.09],[.37,-.07],[.48,-.1],[.58,-.08],[.7,-.14],
  [-.6,-.18],[-.48,-.2],[-.38,-.17],[-.27,-.19],[-.16,-.17],[-.06,-.19],[.04,-.17],[.14,-.19],[.23,-.16],[.34,-.18],[.44,-.2],[.55,-.19],[.65,-.2],
  [-.52,-.29],[-.41,-.28],[-.3,-.27],[-.19,-.3],[-.1,-.24],[.01,-.29],[.1,-.27],[.2,-.29],[.3,-.27],[.4,-.29],[.52,-.3],[.63,-.29],
  [-.45,-.4],[-.33,-.39],[-.23,-.41],[-.12,-.38],[-.02,-.41],[.08,-.39],[.18,-.41],[.27,-.38],[.38,-.41],[.49,-.39],[.6,-.4],
  [-.38,-.52],[-.27,-.5],[-.16,-.52],[-.07,-.48],[.04,-.52],[.13,-.5],[.23,-.52],[.33,-.5],[.44,-.53],[.55,-.5],
  [-.3,-.63],[-.2,-.61],[-.11,-.66],[-.01,-.62],[.09,-.64],[.19,-.62],[.29,-.66],[.41,-.62],[.52,-.64],
  [-.21,-.74],[-.12,-.72],[-.02,-.75],[.08,-.73],[.18,-.75],[.29,-.73],[.39,-.75],
  [-.2,.17],[.0,.16],[.17,.18],[-.35,.07],[-.15,-.02],[.1,-.03],[.3,-.05],[-.27,-.13],[-.05,-.12],[.18,-.13],[-.12,-.22],[.09,-.22],[.27,-.21],[-.22,-.33],[.0,-.35],[.19,-.33],[-.15,-.45],[.05,-.45],[.24,-.44],[-.1,-.55],[.1,-.56]
];
const cluster5 = [
  [-1.27,1.78],[-2.22,1.26],[-2.17,.55],[-1.7,-.15],[.9,-1.93],[.95,-.78],[.12,1.27],[-1.12,.41],[-.97,-.37],[-.8,-.93],[-.77,.56],
  [-.72,.62],[-.62,.42],[-.48,.28],[-.3,.1],[-.15,.0],[.02,.22],[.2,.05],[.42,.38],[.55,.25],[.62,-.1],[.5,-.5],[.3,-.45],[.1,-.55],[-.12,-.42],[-.3,-.35],[-.45,-.62],[-.6,-.62],[-.05,-.25],[.2,-.25],[-.35,.42],[.15,.72],[-.1,.82],[.7,-.6],[.4,-.72],[-.4,.0],[-.25,-.7],[.05,-.75],[.58,.55]
];
const clusters = [cluster1, cluster2, cluster3, cluster4, cluster5];

// (d) optimisation curve
const iterations = [1, 2, 3, 4, 5, 6, 7, 8, 9, 10, 11, 12, 13, 14, 15, 16, 17, 18, 19, 20];
const objective = [55.55, 55.55, 55.55, 55.55, 55.55, 55.55, 55.55, 55.55, 55.55, 58.82, 58.82, 58.82, 58.82, 58.82, 58.82, 58.82, 58.82, 58.82, 58.82, 58.82];

const width = 3302;
const height = 2735;
const svg = d3.select("#chartArea").append("svg")
  .attr("width", width).attr("height", height)
  .style("display", "block");

const blue = "#0000ff";
const red = "#ff0000";

// Origin style axis: long labelled ticks + short minor ticks
function originAxis(orient, scale, pos, majors, minors, fmt) {
  const g = svg.append("g").attr("transform", orient === "left" ? `translate(${pos},0)` : `translate(0,${pos})`);
  const make = orient === "left" ? d3.axisLeft : d3.axisBottom;
  g.append("g").call(make(scale).tickValues(minors).tickSize(10).tickSizeOuter(0).tickFormat(""));
  const major = g.append("g").call(make(scale).tickValues(majors).tickSize(20).tickPadding(orient === "left" ? 17 : 20).tickSizeOuter(0).tickFormat(fmt));
  major.selectAll("text").style("font-size", "46px").style("font-family", '"Liberation Serif", serif').attr("fill", "#000");
  g.selectAll("path.domain").attr("stroke", "#000").attr("stroke-width", 4.5);
  g.selectAll(".tick line").attr("stroke", "#000").attr("stroke-width", 4);
}

function label(x, y, txt, size, len, rotate) {
  const t = svg.append("text")
    .attr("transform", `translate(${x},${y})` + (rotate ? " rotate(-90)" : ""))
    .attr("text-anchor", "middle")
    .attr("dy", ".33em")
    .style("font-size", size + "px")
    .text(txt);
  if (len) t.attr("textLength", len).attr("lengthAdjust", "spacingAndGlyphs");
}

// ---- panel (a)
const xA = d3.scaleLinear().domain([0, 1]).range([177, 1560]);
const yA = d3.scaleLinear().domain([-6, 6]).range([1160, 47]);
const waveLine = d3.line().x(d => xA(d[0])).y(d => yA(d[1]));
const fuzzPoints = fuzzUpper.flatMap((v, i) => [
  [(i + 0.25) * fuzzStep, v],
  [(i + 0.75) * fuzzStep, fuzzLower[i]]
]);
const wavePoints = waveUpper.flatMap((v, i) => [
  [i * waveStep, v],
  [(i + 0.5) * waveStep, waveLower[i]]
]);
svg.append("path")
  .attr("d", d3.area().x((d, i) => xA(i * coreStep)).y0((d, i) => yA(coreLower[i])).y1(d => yA(d))(coreUpper))
  .attr("fill", blue);
svg.append("path").attr("d", waveLine(fuzzPoints))
  .attr("fill", "none").attr("stroke", blue).attr("stroke-width", 1.5);
svg.append("path").attr("d", waveLine(wavePoints))
  .attr("fill", "none").attr("stroke", blue).attr("stroke-width", 1.6);
originAxis("bottom", xA, 1160, d3.range(0, 1.01, 0.2), d3.range(0.1, 1, 0.2), d3.format(".1f"));
originAxis("left", yA, 177, d3.range(-6, 7, 2), d3.range(-5, 6, 2), d3.format("d"));
label(47, 602, "Amplitude", 53, 245, true);
label(869, 1307, "Time (s)", 56, 194);
label(866, 1380, "(a)", 100);

// ---- panel (b)
const xB = d3.scaleLinear().domain([0, 1000]).range([1863, 3203]);
const yB = d3.scaleLinear().domain([0, 0.225]).range([1107, 29]);
svg.append("path")
  .attr("d", d3.line().x((d, i) => xB(i * spectrumStep)).y(d => yB(d))(spectrum))
  .attr("fill", "none").attr("stroke", blue).attr("stroke-width", 1.6);
originAxis("bottom", xB, 1107, d3.range(0, 1001, 200), d3.range(100, 1000, 200), d3.format("d"));
originAxis("left", yB, 1863, [0, 0.05, 0.1, 0.15, 0.2], [0.025, 0.075, 0.125, 0.175, 0.225], d3.format(".2f"));
label(1705, 566, "Amplitude", 53, 235, true);
label(2532, 1250, "Frequency (Hz)", 56, 353);
label(2498, 1326, "(b)", 100);

// arrow shape relative to its tip, and where each callout sits relative to its ring
const arrowHead = [[0, 0], [65, -46], [80, -12]];
const arrowTail = [[72, -29], [121, -50]];
const arrowOffset = [[21, -8], [22, -3], [25, -1], [22, 0]];
const textOffset = [[139, -34], [150, -29], [141, -26], [139, -26]];
const callouts = svg.append("g").selectAll("g").data(calloutFreq).join("g")
  .attr("transform", (d, i) => `translate(${xB(d)},${yB(calloutAmp[i])})`);
callouts.append("ellipse")
  .attr("rx", 17.5).attr("ry", 15)
  .attr("fill", "none").attr("stroke", red).attr("stroke-width", 8);
const arrows = callouts.append("g")
  .attr("transform", (d, i) => `translate(${arrowOffset[i][0]},${arrowOffset[i][1]})`);
arrows.append("path").attr("d", d3.line()(arrowHead) + "Z").attr("fill", red).attr("stroke", red).attr("stroke-width", 2);
arrows.append("path").attr("d", d3.line()(arrowTail)).attr("stroke", red).attr("stroke-width", 3).attr("fill", "none");
const ct = callouts.append("text")
  .attr("x", (d, i) => textOffset[i][0]).attr("y", (d, i) => textOffset[i][1])
  .style("font-style", "italic").style("font-size", "98px").style("fill", red);
ct.append("tspan").text((d, i) => calloutMain[i]);
ct.append("tspan").attr("dy", 23).style("font-size", "60px").text((d, i) => calloutSub[i]);

// ---- panel (c), matlab look
const xC = d3.scaleLinear().domain([-3.63, 3.80]).range([284, 1515]);
const yC = d3.scaleLinear().domain([-2.77, 3.08]).range([2461, 1494]);
const xTicksC = [-3, -2, -1, 0, 1, 2, 3];
const yTicksC = [-2, -1, 0, 1, 2, 3];
const dark = "#262626";
const gridC = svg.append("g").attr("stroke", "#d9d9d9").attr("stroke-width", 2.5);
gridC.selectAll("line.v").data(xTicksC).join("line").attr("class", "v")
  .attr("x1", d => xC(d)).attr("x2", d => xC(d)).attr("y1", 1494).attr("y2", 2461);
gridC.selectAll("line.h").data(yTicksC).join("line").attr("class", "h")
  .attr("y1", d => yC(d)).attr("y2", d => yC(d)).attr("x1", 284).attr("x2", 1515);

const cross = d3.symbol().type(d3.symbolTimes).size(348)();
clusters.forEach((pts, k) => {
  svg.append("g").selectAll("path").data(pts).join("path")
    .attr("transform", d => `translate(${xC(d[0])},${yC(d[1])})`)
    .attr("d", cross)
    .attr("fill", "none").attr("stroke", clusterColors[k]).attr("stroke-width", 2);
});

const tickC = -13;
function styleC(g) {
  g.selectAll(".tick line").attr("stroke", dark).attr("stroke-width", 2.5);
  g.selectAll("path.domain").attr("stroke", dark).attr("stroke-width", 3.5);
  g.selectAll("text").style("font-size", "37px").style("font-family", '"Liberation Sans", sans-serif').attr("fill", dark);
}
svg.append("g").attr("transform", "translate(0,2461)")
  .call(d3.axisBottom(xC).tickValues(xTicksC).tickSize(tickC).tickSizeOuter(0).tickPadding(28).tickFormat(d => String(d)))
  .call(styleC);
svg.append("g").attr("transform", "translate(284,0)")
  .call(d3.axisLeft(yC).tickValues(yTicksC).tickSize(tickC).tickSizeOuter(0).tickPadding(16).tickFormat(d => String(d)))
  .call(styleC);
svg.append("g").attr("transform", "translate(0,1494)")
  .call(d3.axisTop(xC).tickValues(xTicksC).tickSize(tickC).tickSizeOuter(0).tickFormat(""))
  .call(styleC);
svg.append("g").attr("transform", "translate(1515,0)")
  .call(d3.axisRight(yC).tickValues(yTicksC).tickSize(tickC).tickSizeOuter(0).tickFormat(""))
  .call(styleC);

// legend
svg.append("rect").attr("x", 1184).attr("y", 1524).attr("width", 300).attr("height", 242)
  .attr("fill", "#fff").attr("stroke", dark).attr("stroke-width", 3);
const legendY = d3.scalePoint().domain(clusterNames).range([1554, 1740]);
const legendRow = svg.append("g").selectAll("g").data(clusterNames).join("g")
  .attr("transform", d => `translate(0,${legendY(d)})`);
legendRow.append("path").attr("transform", "translate(1253,0)").attr("d", cross)
  .attr("fill", "none").attr("stroke", (d, i) => clusterColors[i]).attr("stroke-width", 1.8);
legendRow.append("text").attr("x", 1318).attr("dy", ".36em")
  .style("font-family", '"Liberation Sans", sans-serif').style("font-size", "33.6px").style("fill", "#111")
  .text(d => d);
label(866, 2669, "(c)", 100);

// ---- panel (d)
const xD = d3.scaleLinear().domain([0, 20]).range([1904, 3263]);
const yD = d3.scaleLinear().domain([55.25, 59.25]).range([2432, 1337]);
svg.append("path")
  .attr("d", d3.line().x(d => xD(d)).y((d, i) => yD(objective[i]))(iterations))
  .attr("fill", "none").attr("stroke", red).attr("stroke-width", 8);
originAxis("bottom", xD, 2432, [0, 5, 10, 15, 20], [2.5, 7.5, 12.5, 17.5], d3.format("d"));
originAxis("left", yD, 1904, [55.5, 56, 56.5, 57, 57.5, 58, 58.5, 59], [55.25, 55.75, 56.25, 56.75, 57.25, 57.75, 58.25, 58.75, 59.25], d3.format(".1f"));
label(1743, 1885, "Objective function value", 56, 560, true);
label(2583, 2578, "Number of iterations", 57, 471);
label(2514, 2665, "(d)", 100);
</script>
</body>
</html>
